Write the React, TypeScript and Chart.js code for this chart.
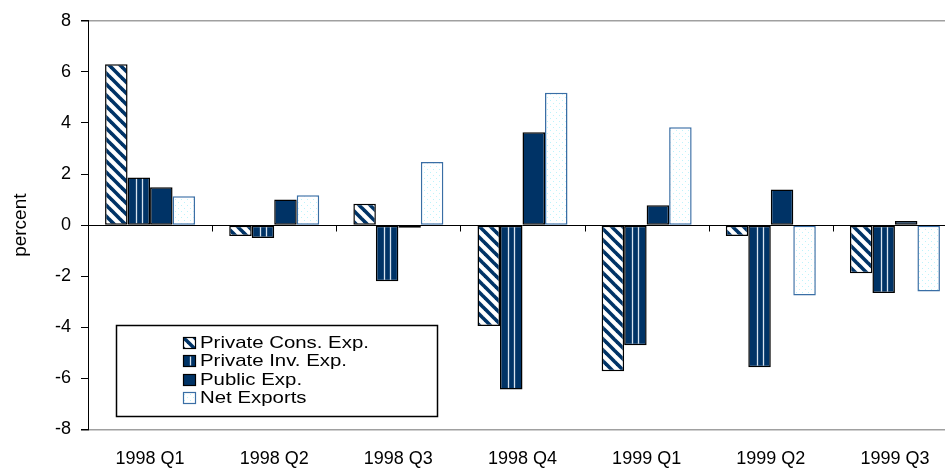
import React, { useEffect, useRef } from "react";
import { Chart, registerables } from "chart.js";

Chart.register(...registerables);

const categories = ["1998 Q1", "1998 Q2", "1998 Q3", "1998 Q4", "1999 Q1", "1999 Q2", "1999 Q3"];
const seriesNames = ["Private Cons. Exp.", "Private Inv. Exp.", "Public Exp.", "Net Exports"];
const privateCons = [6.3, -0.42, 0.84, -3.95, -5.72, -0.42, -1.88];
const privateInv = [1.87, -0.5, -2.2, -6.43, -4.7, -5.56, -2.66];
const publicExp = [1.48, 1.0, -0.1, 3.64, 0.78, 1.4, 0.16];
const netExports = [1.13, 1.17, 2.47, 5.18, 3.83, -2.75, -2.6];
const yTickValues = [-8, -6, -4, -2, 0, 2, 4, 6, 8];
const yAxisTitle = "percent";

const NAVY = "#003366";
const NET_BORDER = "#3a6ea5";
const FONT = "'Liberation Sans', Arial, sans-serif";

function makeDiagonal(): CanvasPattern {
  const n = 11;
  const c = document.createElement("canvas");
  c.width = n;
  c.height = n;
  const g = c.getContext("2d")!;
  g.fillStyle = "#ffffff";
  g.fillRect(0, 0, n, n);
  g.strokeStyle = NAVY;
  g.lineWidth = 3.6;
  for (let k = -1; k <= 1; k++) {
    g.beginPath();
    g.moveTo(k * n - 2, -2);
    g.lineTo(k * n + n + 2, n + 2);
    g.stroke();
  }
  return g.createPattern(c, "repeat")!;
}

function makeDots(): CanvasPattern {
  const n = 6;
  const c = document.createElement("canvas");
  c.width = n;
  c.height = n;
  const g = c.getContext("2d")!;
  g.fillStyle = "#ffffff";
  g.fillRect(0, 0, n, n);
  g.fillStyle = "#bdf3fb";
  g.fillRect(1, 1, 1, 1);
  g.fillRect(4, 4, 1, 1);
  return g.createPattern(c, "repeat")!;
}

export default function App() {
  const ref = useRef<HTMLCanvasElement>(null);

  useEffect(() => {
    const canvas = ref.current;
    if (!canvas) return;
    const diag = makeDiagonal();
    const dots = makeDots();

    const fills: any[] = [diag, NAVY, NAVY, dots];
    const borders = ["#000000", "#000000", "#000000", NET_BORDER];

    const customPlugin = {
      id: "customDraw",
      afterDatasetsDraw(chart: any) {
        const ctx = chart.ctx as CanvasRenderingContext2D;
        const xs = chart.scales.x;
        const ys = chart.scales.y;
        const area = chart.chartArea;
        ctx.save();
        const meta = chart.getDatasetMeta(1);
        ctx.strokeStyle = "#d6e2ee";
        ctx.lineWidth = 1.3;
        meta.data.forEach((bar: any) => {
          const p = bar.getProps(["x", "y", "base"], true);
          const top = Math.min(p.y, p.base) + 1.5;
          const bot = Math.max(p.y, p.base) - 1.5;
          if (bot - top < 1) return;
          [-3, 3].forEach((dx) => {
            ctx.beginPath();
            ctx.moveTo(Math.round(p.x + dx) + 0.5, top);
            ctx.lineTo(Math.round(p.x + dx) + 0.5, bot);
            ctx.stroke();
          });
        });
        const y0 = Math.round(ys.getPixelForValue(0)) + 0.5;
        ctx.strokeStyle = "#000";
        ctx.lineWidth = 1;
        ctx.beginPath();
        ctx.moveTo(area.left, y0);
        ctx.lineTo(area.right, y0);
        ctx.stroke();
        for (let i = 1; i < categories.length; i++) {
          const xb = Math.round((xs.getPixelForValue(i - 1) + xs.getPixelForValue(i)) / 2) + 0.5;
          ctx.beginPath();
          ctx.moveTo(xb, y0);
          ctx.lineTo(xb, y0 + 6);
          ctx.stroke();
        }
        ctx.restore();
      },
      afterDraw(chart: any) {
        const ctx = chart.ctx as CanvasRenderingContext2D;
        ctx.save();
        const bx = 116.5, by = 325.5, bw = 321, bh = 91;
        ctx.fillStyle = "#ffffff";
        ctx.fillRect(bx, by, bw, bh);
        ctx.strokeStyle = "#000";
        ctx.lineWidth = 1.5;
        ctx.strokeRect(bx, by, bw, bh);
        const rows = [342, 360.5, 379, 397.5];
        seriesNames.forEach((name, i) => {
          const cy = rows[i];
          const sx = 183.5, sw = 12, sh = 11;
          const sy = Math.round(cy - sh / 2) + 0.5;
          ctx.fillStyle = fills[i];
          ctx.fillRect(sx, sy, sw, sh);
          if (i === 1) {
            ctx.strokeStyle = "#d6e2ee";
            ctx.lineWidth = 1.3;
            ctx.beginPath();
            ctx.moveTo(sx + 7, sy + 1);
            ctx.lineTo(sx + 7, sy + sh - 1);
            ctx.stroke();
          }
          ctx.strokeStyle = borders[i];
          ctx.lineWidth = 1.2;
          ctx.strokeRect(sx, sy, sw, sh);
          ctx.save();
          ctx.translate(200, cy);
          ctx.scale(1.2, 1);
          ctx.fillStyle = "#000";
          ctx.font = `17px ${FONT}`;
          ctx.textBaseline = "middle";
          ctx.textAlign = "left";
          ctx.fillText(name, 0, 1);
          ctx.restore();
        });
        ctx.restore();
      },
    };

    const chart = new Chart(canvas, {
      type: "bar",
      data: {
        labels: categories,
        datasets: [privateCons, privateInv, publicExp, netExports].map((d, i) => ({
          label: seriesNames[i],
          data: d,
          backgroundColor: fills[i],
          borderColor: borders[i],
          borderWidth: 1.5,
          borderSkipped: false,
          categoryPercentage: 0.725,
          barPercentage: 1.0,
        })),
      },
      options: {
        responsive: false,
        animation: false,
        events: [],
        layout: { padding: { top: 19, right: 8, bottom: 0, left: 0 } },
        plugins: {
          legend: { display: false },
          tooltip: { enabled: false },
        },
        scales: {
          x: {
            grid: { display: false, drawTicks: false, tickLength: 0 },
            border: { display: false },
            ticks: {
              color: "#000",
              font: { family: FONT, size: 18 },
              padding: 19,
              maxRotation: 0,
              autoSkip: false,
            },
            afterFit: (s: any) => {
              s.height = 43.5;
            },
          },
          y: {
            min: -8,
            max: 8,
            afterBuildTicks: (s: any) => {
              s.ticks = yTickValues.map((v) => ({ value: v }));
            },
            afterFit: (s: any) => {
              s.width = 88;
            },
            border: { display: true, color: "#000", width: 1 },
            grid: {
              drawOnChartArea: true,
              drawTicks: true,
              tickLength: 7,
              tickColor: "#000",
              color: (c: any) =>
                c.tick && Math.abs(c.tick.value) === 8 ? "#a0a0a0" : "rgba(0,0,0,0)",
              lineWidth: (c: any) => (c.tick && Math.abs(c.tick.value) === 8 ? 1.5 : 1),
            },
            ticks: {
              color: "#000",
              font: { family: FONT, size: 18 },
              padding: 10,
            },
            title: {
              display: true,
              text: yAxisTitle,
              color: "#000",
              font: { family: FONT, size: 19 },
              padding: { top: 9, bottom: 0 },
            },
          },
        },
      },
      plugins: [customPlugin],
    });

    return () => chart.destroy();
  }, []);

  return (
    <div
      style={{
        position: "fixed",
        left: 0,
        top: 0,
        width: 945,
        height: 473,
        overflow: "hidden",
        background: "#fff",
      }}
    >
      <canvas ref={ref} width={965} height={473} style={{ width: 965, height: 473, display: "block" }} />
    </div>
  );
}
